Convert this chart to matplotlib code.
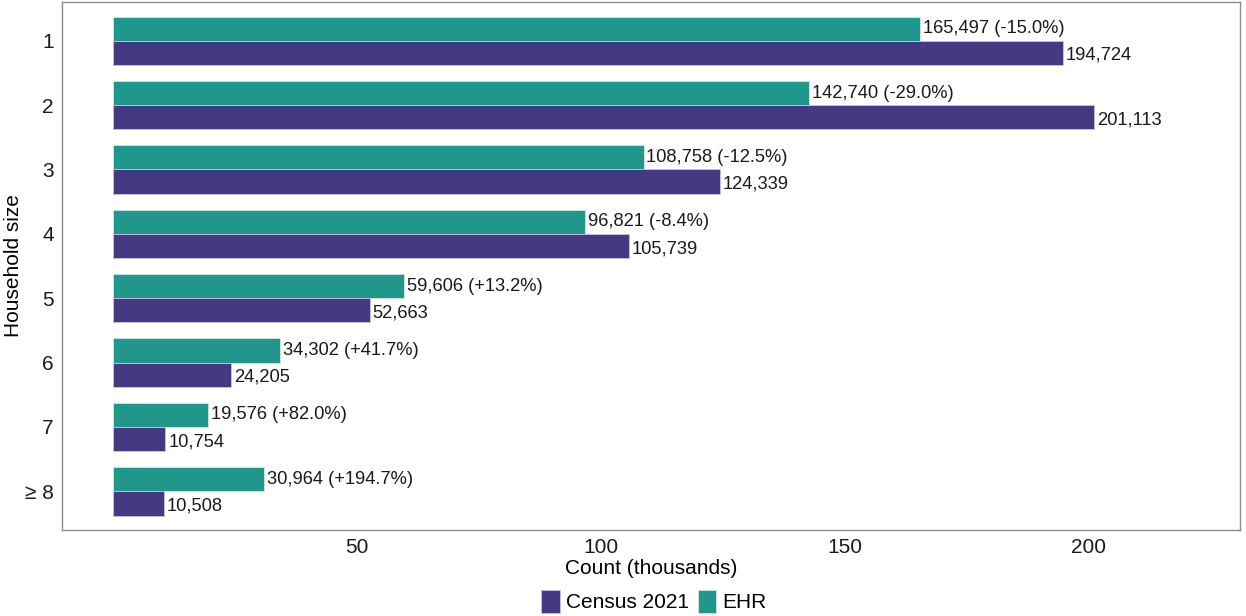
import numpy as np
import matplotlib.pyplot as plt

plt.rcParams['font.family'] = ['Liberation Sans', 'DejaVu Sans']

# Household size categories and counts
sizes = ["1", "2", "3", "4", "5", "6", "7", "\u2265 8"]
census = np.array([194724, 201113, 124339, 105739, 52663, 24205, 10754, 10508])
ehr = np.array([165497, 142740, 108758, 96821, 59606, 34302, 19576, 30964])

c_census = "#443983"
c_ehr = "#21968B"

fig = plt.figure(figsize=(12.46, 6.16), dpi=100)
ax = fig.add_axes([0.0498, 0.1396, 0.9454, 0.857])

y = np.arange(len(sizes))
h = 0.375
ax.barh(y - h / 2, ehr / 1000, height=h, color=c_ehr, edgecolor="#cfe9e6", linewidth=0.6, label="EHR")
ax.barh(y + h / 2, census / 1000, height=h, color=c_census, edgecolor="#c9c3e0", linewidth=0.6, label="Census 2021")

for i in range(len(sizes)):
    pct = (ehr[i] / census[i] - 1) * 100
    ax.text(ehr[i] / 1000 + 0.6, y[i] - h / 2, f"{ehr[i]:,} ({pct:+.1f}%)",
            va="center", ha="left", fontsize=13.2, color="#1a1a1a")
    ax.text(census[i] / 1000 + 0.6, y[i] + h / 2 + 0.04, f"{census[i]:,}",
            va="center", ha="left", fontsize=13.2, color="#1a1a1a")

ax.set_xlim(-10.4, 231)
ax.set_ylim(7.6, -0.6)
ax.set_yticks(y)
ax.set_yticklabels(sizes)
ax.set_xticks([50, 100, 150, 200])
ax.tick_params(axis="both", length=0, labelsize=15, colors="#1a1a1a", pad=6)
ax.set_xlabel("Count (thousands)", fontsize=15, labelpad=1)
ax.set_ylabel("Household size", fontsize=15, labelpad=1)
for s in ax.spines.values():
    s.set_color("#8c8c8c")
    s.set_linewidth(1.0)

handles, labels = ax.get_legend_handles_labels()
fig.legend(handles[::-1], labels[::-1], loc="lower center", bbox_to_anchor=(0.525, -0.025),
           ncol=2, frameon=False, fontsize=15, handlelength=0.9, handleheight=1.3,
           handletextpad=0.3, columnspacing=0.4)

fig.savefig("out.png", dpi=100)
